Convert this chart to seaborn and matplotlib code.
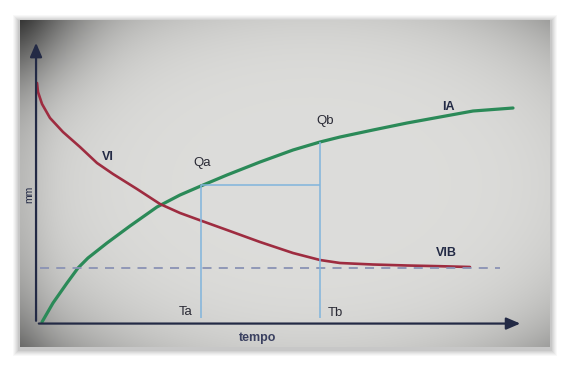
import numpy as np
import pandas as pd
import matplotlib
matplotlib.use("Agg")
import matplotlib.pyplot as plt
import seaborn as sns
from matplotlib.patches import Rectangle

sns.set_theme(style="white")
plt.rcParams['font.family'] = ['Liberation Sans', 'DejaVu Sans']

# ---- data (arbitrary units 0-100) ----
ia_x = [0.82, 3.06, 5.92, 8.16, 10.20, 14.08, 18.78, 24.29, 28.98, 33.47, 38.57,
        45.31, 52.04, 57.55, 61.63, 68.37, 75.31, 82.04, 88.78, 96.94]
ia_y = [0.35, 7.07, 14.13, 19.43, 22.97, 28.27, 34.28, 41.00, 45.23, 48.59, 52.30,
        56.89, 61.13, 63.96, 65.72, 68.20, 70.67, 72.79, 74.91, 75.97]
vi_x = [-0.2, 0.0, 0.82, 2.45, 5.10, 8.57, 12.04, 15.31, 20.20, 24.90, 28.98, 33.47,
        38.57, 45.31, 52.04, 57.55, 61.63, 68.37, 75.31, 82.04, 88.16]
vi_y = [84.81, 81.63, 77.39, 72.44, 67.49, 62.19, 56.54, 52.65, 47.35, 42.05, 38.87,
        36.04, 32.86, 28.62, 24.73, 22.26, 21.20, 20.67, 20.32, 20.07, 19.79]
vib_level = 19.43
vib_span = [0.4, 94.3]
t_points = [33.27, 57.55]        # Ta, Tb
q_points = [48.59, 63.96]        # Qa, Qb
t_labels = ["Ta", "Tb"]
q_labels = ["Qa", "Qb"]

W, H = 570, 367
fig = plt.figure(figsize=(W / 100, H / 100), dpi=100)
fig.patch.set_facecolor("white")

# ---- photo frame background with soft shadow and vignette ----
bg = fig.add_axes([0, 0, 1, 1], zorder=0)
bg.set_xlim(0, W)
bg.set_ylim(H, 0)
bg.axis("off")
for i, a in enumerate([0.04, 0.05, 0.06, 0.07, 0.08, 0.1]):
    d = 7 - i
    bg.add_patch(Rectangle((20 - d, 20 - d + 2), 530 + 2 * d, 327 + 2 * d,
                           facecolor="#606060", edgecolor="none", alpha=a))
yy, xx = np.mgrid[0:1:200j, 0:1:300j]
r = np.sqrt(((xx - 0.55) / 0.62) ** 2 + ((yy - 0.5) / 0.62) ** 2)
val = 0.865 - 0.16 * np.clip(r, 0, 1.3) ** 5
corner = np.exp(-((xx / 0.12) ** 2 + (yy / 0.2) ** 2))
val = val - 0.20 * corner - 0.05 * np.exp(-(xx / 0.05) ** 2)
img = np.dstack([val, val, val * 0.99])
bg.imshow(np.clip(img, 0, 1), extent=[20, 550, 347, 20], aspect="auto", zorder=1,
          interpolation="bilinear")

# ---- main chart axes (data units) ----
ax = fig.add_axes([0, 0, 1, 1], zorder=1)
ax.patch.set_alpha(0)
x0, y0, sx, sy = 38, 323, 4.9, 2.83
ax.set_xlim(-x0 / sx, (W - x0) / sx)
ax.set_ylim((y0 - H) / sy, y0 / sy)
ax.axis("off")

green = "#2b8a58"
red = "#9e2c40"
blue = "#80b4dc"
navy = "#232a45"

ia = pd.DataFrame({"t": ia_x, "v": ia_y})
vi = pd.DataFrame({"t": vi_x, "v": vi_y})
sns.lineplot(data=ia, x="t", y="v", ax=ax, color=green, lw=2.3, sort=False,
             solid_joinstyle="round", solid_capstyle="round")
sns.lineplot(data=vi, x="t", y="v", ax=ax, color=red, lw=1.9, sort=False,
             solid_joinstyle="round", solid_capstyle="round")

ax.hlines(vib_level, vib_span[0], vib_span[1], colors="#8a92b4", linestyles=(0, (5, 4)), lw=1.3)
ax.vlines(t_points, 1.8, q_points, colors=blue, lw=1.1)
ax.hlines(q_points[0], t_points[0], t_points[1], colors=blue, lw=1.1)

# axes arrows
ax.annotate("", xy=(99, -0.2), xytext=(-0.4, -0.2),
            arrowprops=dict(arrowstyle="-|>,head_length=0.7,head_width=0.3", color=navy, lw=1.6))
ax.annotate("", xy=(-0.4, 100), xytext=(-0.4, -0.2),
            arrowprops=dict(arrowstyle="-|>,head_length=0.7,head_width=0.3", color=navy, lw=1.6))

# labels
ax.text(14.2, 58.5, "VI", color=navy, fontsize=9, fontweight="bold", ha="center", va="center")
ax.text(83.7, 76.5, "IA", color=navy, fontsize=9, fontweight="bold", ha="center", va="center")
ax.text(83.3, 24.7, "VIB", color=navy, fontsize=9, fontweight="bold", ha="center", va="center")
ax.text(33.5, 56.5, q_labels[0], color="#2a2a35", fontsize=9.5, ha="center", va="center")
ax.text(58.6, 71.5, q_labels[1], color="#2a2a35", fontsize=9.5, ha="center", va="center")
ax.text(30.2, 3.8, t_labels[0], color="#2a2a35", fontsize=9.5, ha="center", va="center")
ax.text(60.6, 3.5, t_labels[1], color="#2a2a35", fontsize=9.5, ha="center", va="center")
ax.text(-1.8, 45.5, "mm", color=navy, fontsize=7.5, rotation=90, ha="center", va="center")
tt = ax.text(44.9, -6.5, "tempo", color="#3a4060", fontsize=9, fontweight="bold",
             ha="center", va="baseline")
tt.set_clip_path(Rectangle((20, 20), 530, 324, transform=bg.transData))

fig.savefig("out.png", dpi=100, facecolor="white")
